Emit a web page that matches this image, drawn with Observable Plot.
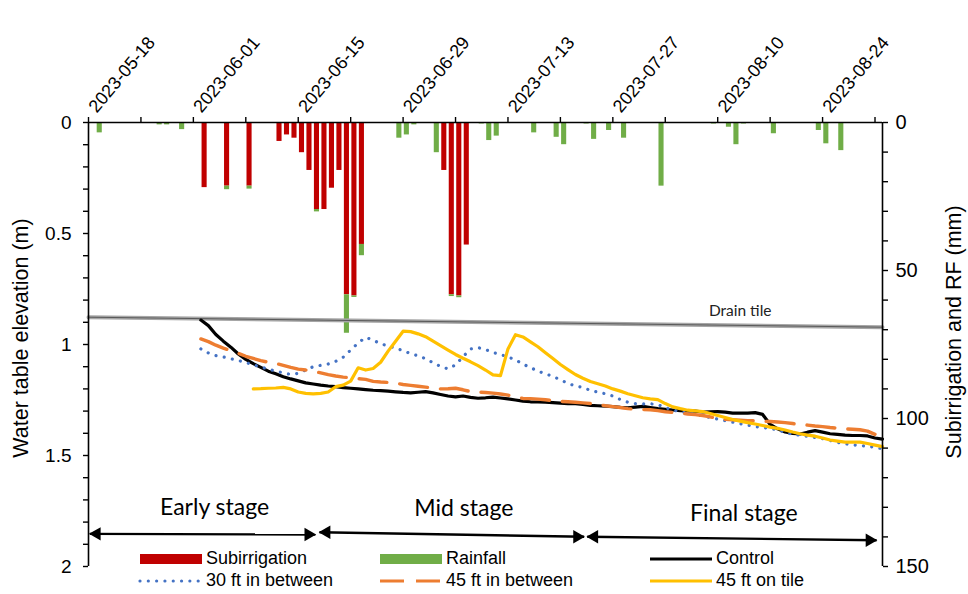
<!DOCTYPE html>
<html><head><meta charset="utf-8">
<script src="https://cdn.jsdelivr.net/npm/d3@7"></script>
<script src="https://cdn.jsdelivr.net/npm/@observablehq/plot@0.6"></script>
<style>
html,body{margin:0;padding:0;background:#fff;}
#chart{position:relative;width:968px;height:594px;overflow:hidden;}
</style></head><body><div id="chart"></div>
<script>
// ---------- data ----------
const irrigationDates = ["2023-05-26","2023-05-29","2023-06-01","2023-06-05","2023-06-06","2023-06-07","2023-06-08","2023-06-09","2023-06-10","2023-06-11","2023-06-12","2023-06-13","2023-06-14","2023-06-15","2023-06-16","2023-06-27","2023-06-28","2023-06-29","2023-06-30"];
const irrigationMm = [22,21.5,21.5,6.4,4.2,5.3,10.2,16.2,29.4,29.4,22.2,16.2,58.2,58.6,41.2,16.2,58.2,58.6,41.4];

const rainDates = ["2023-05-12","2023-05-20","2023-05-21","2023-05-23","2023-05-29","2023-06-01","2023-06-10","2023-06-14","2023-06-15","2023-06-16","2023-06-21","2023-06-22","2023-06-23","2023-06-26","2023-06-28","2023-06-29","2023-07-02","2023-07-03","2023-07-04","2023-07-09","2023-07-12","2023-07-13","2023-07-16","2023-07-17","2023-07-19","2023-07-21","2023-07-26","2023-08-02","2023-08-04","2023-08-05","2023-08-06","2023-08-10","2023-08-16","2023-08-17","2023-08-19"];
const rainMm = [3.5,0.8,0.8,2.4,1.2,1,0.8,13,0.5,3.8,5.3,4.2,0.8,10.2,0.6,0.6,0.5,6.1,4.6,3.5,5,7.5,0.5,5.7,2.7,5.3,21.5,0.5,1.6,7.5,0.5,3.8,2.7,7.2,9.5];

// daily water table elevation (m below surface), one value per day from the start date
const controlStart = "2023-05-26";
const control = [0.89,0.915,0.955,0.985,1.012,1.043,1.067,1.086,1.103,1.12,1.132,1.145,1.155,1.164,1.173,1.178,1.183,1.187,1.19,1.194,1.197,1.2,1.203,1.206,1.208,1.21,1.213,1.216,1.218,1.215,1.212,1.218,1.225,1.232,1.236,1.232,1.238,1.242,1.24,1.237,1.241,1.245,1.25,1.255,1.258,1.259,1.26,1.262,1.264,1.266,1.267,1.27,1.274,1.276,1.278,1.28,1.283,1.285,1.282,1.279,1.284,1.289,1.292,1.295,1.298,1.299,1.3,1.304,1.303,1.302,1.305,1.309,1.309,1.309,1.307,1.315,1.36,1.38,1.394,1.401,1.403,1.395,1.388,1.395,1.402,1.405,1.408,1.41,1.41,1.412,1.421,1.426];

const ft30Start = "2023-05-26";
const ft30 = [1.02,1.038,1.05,1.056,1.064,1.072,1.081,1.092,1.101,1.111,1.12,1.128,1.135,1.13,1.115,1.1,1.094,1.088,1.076,1.057,1.025,0.993,0.968,0.98,0.997,1.006,1.016,1.028,1.041,1.051,1.064,1.082,1.099,1.11,1.092,1.055,1.02,1.014,1.023,1.036,1.045,1.056,1.069,1.088,1.104,1.12,1.132,1.144,1.159,1.175,1.187,1.193,1.207,1.214,1.222,1.232,1.248,1.26,1.266,1.268,1.267,1.271,1.284,1.295,1.303,1.308,1.315,1.322,1.329,1.336,1.343,1.35,1.357,1.363,1.37,1.374,1.378,1.385,1.396,1.404,1.409,1.414,1.419,1.424,1.432,1.441,1.447,1.452,1.456,1.458,1.463,1.47];

const ft45Start = "2023-05-26";
const ft45 = [0.975,0.987,1.003,1.016,1.028,1.04,1.053,1.063,1.073,1.08,1.085,1.094,1.103,1.111,1.115,1.12,1.128,1.136,1.142,1.147,1.15,1.154,1.157,1.166,1.169,1.171,1.174,1.18,1.184,1.188,1.192,1.196,1.2,1.199,1.197,1.204,1.212,1.214,1.216,1.219,1.223,1.228,1.237,1.243,1.244,1.246,1.249,1.253,1.256,1.258,1.26,1.263,1.266,1.271,1.276,1.28,1.284,1.289,1.291,1.293,1.294,1.298,1.303,1.306,1.309,1.313,1.316,1.32,1.326,1.333,1.337,1.339,1.341,1.343,1.344,1.346,1.347,1.349,1.352,1.356,1.36,1.363,1.367,1.37,1.374,1.377,1.38,1.382,1.384,1.39,1.405,1.415];

const tileStart = "2023-06-02";
const tile = [1.2,1.199,1.197,1.196,1.193,1.2,1.214,1.22,1.222,1.22,1.214,1.19,1.183,1.165,1.105,1.115,1.108,1.08,1.03,0.985,0.94,0.942,0.952,0.965,0.985,1.005,1.025,1.045,1.062,1.078,1.095,1.115,1.137,1.14,1.02,0.956,0.966,0.988,1.01,1.037,1.063,1.09,1.113,1.135,1.152,1.167,1.177,1.187,1.2,1.21,1.222,1.231,1.24,1.245,1.248,1.266,1.281,1.289,1.296,1.299,1.302,1.311,1.32,1.329,1.338,1.345,1.352,1.358,1.365,1.372,1.378,1.385,1.394,1.402,1.408,1.413,1.421,1.43,1.435,1.44,1.44,1.44,1.446,1.453,1.46];

const drainDates = ["2023-05-11","2023-08-25"];
const drainElev = [0.877, 0.922];

const dateLabels = ["2023-05-18","2023-06-01","2023-06-15","2023-06-29","2023-07-13","2023-07-27","2023-08-10","2023-08-24"];
const leftTicks = [0, 0.5, 1, 1.5, 2];
const rightTicksMm = [0, 50, 100, 150];

const stageNames = ["Early stage","Mid stage","Final stage"];
const stageFrom = ["2023-05-11T04:00","2023-06-10T20:00","2023-07-16T14:00"];
const stageTo   = ["2023-06-10T07:00","2023-07-16T04:00","2023-08-24T05:00"];

// ---------- build ----------
const DAY = 864e5;
const utc = s => new Date(s.length > 10 ? s + "Z" : s);
const xStart = utc("2023-05-11"), xEnd = utc("2023-08-25");
const MM = 2 / 150; // metres of left axis per mm of right axis

const table = new Map();
irrigationDates.forEach((d, i) => table.set(d, {date: utc(d), irr: irrigationMm[i], rain: 0}));
rainDates.forEach((d, i) => {
  const e = table.get(d) ?? {date: utc(d), irr: 0, rain: 0};
  e.rain = rainMm[i]; table.set(d, e);
});
const bars = [...table.values()];
const next = d => new Date(+d + DAY);

const series = (start, vals) => vals.map((v, i) => ({date: new Date(+utc(start) + i * DAY), v}));
const drain = drainDates.map((d, i) => ({date: utc(d), v: drainElev[i]}));

const stageY1 = [1.853, 1.846, 1.866], stageY2 = [1.856, 1.866, 1.882];
const stages = stageNames.map((n, i) => ({name: n, a: utc(stageFrom[i]), b: utc(stageTo[i]), y1: stageY1[i], y2: stageY2[i]}));
const stageTextY = [1.736, 1.74, 1.762];

const weekly = d3.utcThursday.range(xStart, next(xEnd));
const font = "'Liberation Sans', Arial, sans-serif";
const human = "Lato, 'Open Sans', sans-serif";

const plot = Plot.plot({
  width: 968, height: 594,
  marginLeft: 88, marginRight: 86, marginTop: 122, marginBottom: 28,
  x: {type: "utc", domain: [xStart, xEnd]},
  y: {domain: [0, 2], reverse: true},
  style: {fontFamily: font, background: "#fff", color: "#000", overflow: "visible"},
  marks: [
    Plot.rect(bars.filter(d => d.irr > 0), {x1: "date", x2: d => next(d.date), y1: 0, y2: d => d.irr * MM, fill: "#C00000", insetLeft: 1.2, insetRight: 1.2}),
    Plot.rect(bars.filter(d => d.rain > 0), {x1: "date", x2: d => next(d.date), y1: d => d.irr * MM, y2: d => (d.irr + d.rain) * MM, fill: "#70AD47", insetLeft: 1.2, insetRight: 1.2}),
    Plot.line(drain, {x: "date", y: "v", stroke: "#a6a6a6", strokeWidth: 4}),
    Plot.line(drain, {x: "date", y: "v", stroke: "#595959", strokeWidth: 1}),
    Plot.text(["Drain tile"], {x: utc("2023-08-06"), y: 0.85, text: d => d, fontSize: 15.5, fontFamily: human, fill: "#222"}),
    Plot.line(series(controlStart, control), {x: "date", y: "v", stroke: "#000", strokeWidth: 3.2}),
    Plot.line(series(ft30Start, ft30), {x: "date", y: "v", stroke: "#4472C4", strokeWidth: 3.2, strokeDasharray: "0.01 8.3", strokeLinecap: "round"}),
    Plot.line(series(ft45Start, ft45), {x: "date", y: "v", stroke: "#ED7D31", strokeWidth: 3.4, strokeDasharray: "28 13"}),
    Plot.line(series(tileStart, tile), {x: "date", y: "v", stroke: "#FFC000", strokeWidth: 3.2}),
    // stage arrows
    Plot.link(stages, {x1: "a", x2: "b", y1: "y1", y2: "y2", stroke: "#000", strokeWidth: 2.4}),
    Plot.dot(stages, {x: "a", y: "y1", symbol: "triangle", r: 5, fill: "#000", rotate: -90, dx: 7}),
    Plot.dot(stages, {x: "b", y: "y2", symbol: "triangle", r: 5, fill: "#000", rotate: 90, dx: -7}),
    Plot.text(stages, {x: d => new Date((+d.a + +d.b) / 2), y: (d, i) => stageTextY[i], text: "name", dx: 12, fontSize: 23, fontFamily: human}),
    // axes
    Plot.ruleX([xStart, xEnd], {stroke: "#000", strokeWidth: 1.6}),
    Plot.ruleY([0], {stroke: "#000", strokeWidth: 1.6}),
    Plot.axisX(weekly, {anchor: "top", tickSize: 6, tickFormat: () => "", label: null, strokeWidth: 1.4}),
    Plot.text(dateLabels.map(utc), {x: d => d, frameAnchor: "top", text: d3.utcFormat("%Y-%m-%d"), rotate: -50, textAnchor: "start", dx: -54, dy: -17, fontSize: 18}),
    Plot.axisY(d3.range(0, 21).map(i => i / 10), {anchor: "left", tickSize: 5, tickFormat: () => "", label: null, strokeWidth: 1.4}),
    Plot.axisY(leftTicks, {anchor: "left", tickSize: 0, tickPadding: 17, tickFormat: d => String(d), fontSize: 19, label: null}),
    Plot.axisY(d3.range(0, 16).map(i => i * 10 * MM), {anchor: "right", tickSize: 5, tickFormat: () => "", label: null, strokeWidth: 1.4}),
    Plot.axisY(rightTicksMm.map(v => v * MM), {anchor: "right", tickSize: 0, tickPadding: 13, tickFormat: d => String(Math.round(d / MM)), fontSize: 20, label: null})
  ]
});
document.getElementById("chart").appendChild(plot);

// axis titles + legend
const svg = d3.select(plot);
svg.append("text").attr("transform", "translate(22,338) rotate(-90)").attr("text-anchor", "middle")
  .attr("dominant-baseline", "middle").style("font", `21.5px ${font}`).text("Water table elevation (m)");
svg.append("text").attr("transform", "translate(955,332) rotate(-90)").attr("text-anchor", "middle")
  .attr("dominant-baseline", "middle").style("font", `21.5px ${font}`).text("Subirrigation and RF (mm)");

const legendItems = [
  {label: "Subirrigation", kind: "bar", color: "#C00000", col: 0, row: 0},
  {label: "Rainfall", kind: "bar", color: "#70AD47", col: 1, row: 0},
  {label: "Control", kind: "line", color: "#000", col: 2, row: 0},
  {label: "30 ft in between", kind: "dot", color: "#4472C4", col: 0, row: 1},
  {label: "45 ft in between", kind: "dash", color: "#ED7D31", col: 1, row: 1},
  {label: "45 ft on tile", kind: "line", color: "#FFC000", col: 2, row: 1}
];
const colX = [140, 380, 650], rowY = [559, 581], swW = 62;
const lg = svg.append("g");
for (const it of legendItems) {
  const x = colX[it.col], y = rowY[it.row];
  if (it.kind === "bar") lg.append("rect").attr("x", x).attr("y", y - 5).attr("width", swW).attr("height", 10).attr("fill", it.color);
  else {
    const l = lg.append("line").attr("x1", x).attr("x2", x + swW).attr("y1", y).attr("y2", y).attr("stroke", it.color).attr("stroke-width", 3.2);
    if (it.kind === "dot") l.attr("stroke-dasharray", "0.01 8.3").attr("stroke-linecap", "round");
    if (it.kind === "dash") l.attr("stroke-dasharray", "24 12");
  }
  lg.append("text").attr("x", x + swW + 4).attr("y", y).attr("text-anchor", "start").attr("dominant-baseline", "middle")
    .style("font", `18px 'Liberation Sans Narrow', 'Arial Narrow', ${font}`).text(it.label);
}
</script></body></html>
